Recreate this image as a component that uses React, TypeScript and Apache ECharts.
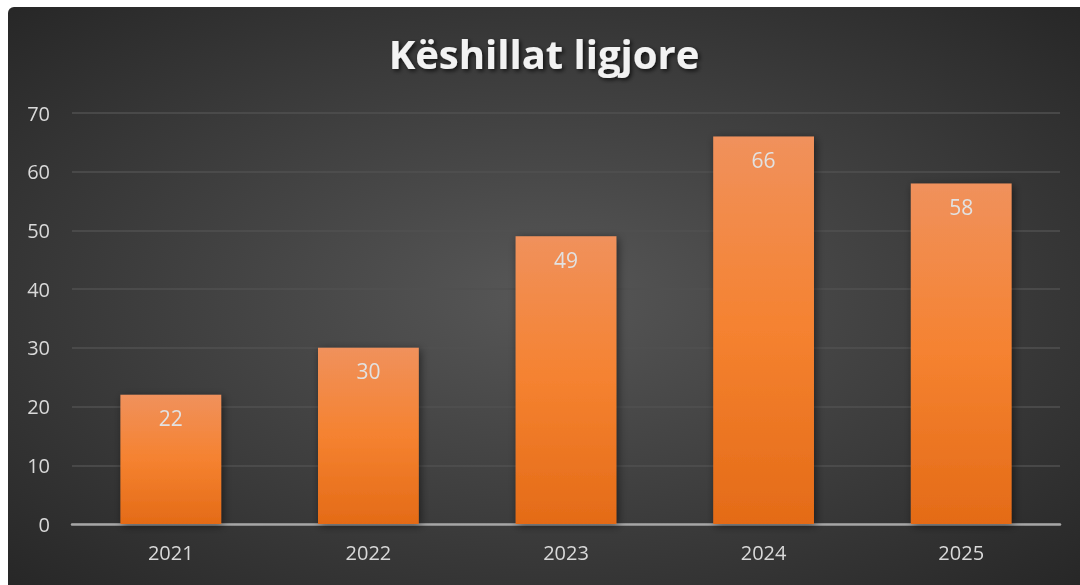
import React, { useEffect, useRef } from "react";
import * as echarts from "echarts";

const titleText = "Këshillat ligjore";
const categories = ["2021", "2022", "2023", "2024", "2025"];
const values = [22, 30, 49, 66, 58];
const yTicks = { min: 0, max: 70, interval: 10 };

export default function App() {
  const ref = useRef<HTMLDivElement>(null);
  useEffect(() => {
    document.documentElement.style.overflow = "hidden";
    const chart = echarts.init(ref.current!, null, { renderer: "svg" });
    chart.setOption({
      animation: false,
      backgroundColor: {
        type: "radial",
        x: 0.5,
        y: 0.5,
        r: 0.75,
        colorStops: [
          { offset: 0, color: "#575757" },
          { offset: 1, color: "#242424" },
        ],
      },
      title: {
        text: titleText,
        left: "center",
        top: 21,
        textStyle: {
          fontFamily: "Open Sans",
          fontWeight: "bold",
          fontSize: 40,
          color: "#f2f2f2",
          textShadowColor: "rgba(0,0,0,0.7)",
          textShadowBlur: 4,
          textShadowOffsetX: 2,
          textShadowOffsetY: 2,
        },
      },
      grid: { left: 64, right: 20, top: 106, bottom: 61 },
      xAxis: {
        type: "category",
        data: categories,
        axisLine: { lineStyle: { color: "#a6a6a6", width: 2.5 } },
        axisTick: { show: false },
        axisLabel: {
          color: "#d9d9d9",
          fontSize: 20,
          fontFamily: "Open Sans",
          margin: 18,
        },
      },
      yAxis: {
        type: "value",
        min: yTicks.min,
        max: yTicks.max,
        interval: yTicks.interval,
        axisLine: { show: false },
        axisTick: { show: false },
        splitLine: { lineStyle: { color: "#505050", width: 1.5 } },
        axisLabel: {
          color: "#d9d9d9",
          fontSize: 20,
          fontFamily: "Open Sans",
          margin: 22,
        },
      },
      series: [
        {
          type: "bar",
          data: values,
          barWidth: "51%",
          itemStyle: {
            color: {
              type: "linear",
              x: 0,
              y: 0,
              x2: 0,
              y2: 1,
              colorStops: [
                { offset: 0, color: "#f0915c" },
                { offset: 0.5, color: "#f58230" },
                { offset: 1, color: "#e46b17" },
              ],
            },
            shadowColor: "rgba(0,0,0,0.5)",
            shadowBlur: 8,
            shadowOffsetX: 2,
            shadowOffsetY: 2,
          },
          label: {
            show: true,
            position: "insideTop",
            distance: 13,
            color: "#e2e2e2",
            fontSize: 21,
            fontFamily: "Open Sans",
          },
        },
      ],
    });
    return () => chart.dispose();
  }, []);
  return (
    <div
      ref={ref}
      style={{
        position: "fixed",
        left: 8,
        top: 7,
        width: 1072,
        height: 578,
        borderTopLeftRadius: 6,
        overflow: "hidden",
      }}
    />
  );
}
